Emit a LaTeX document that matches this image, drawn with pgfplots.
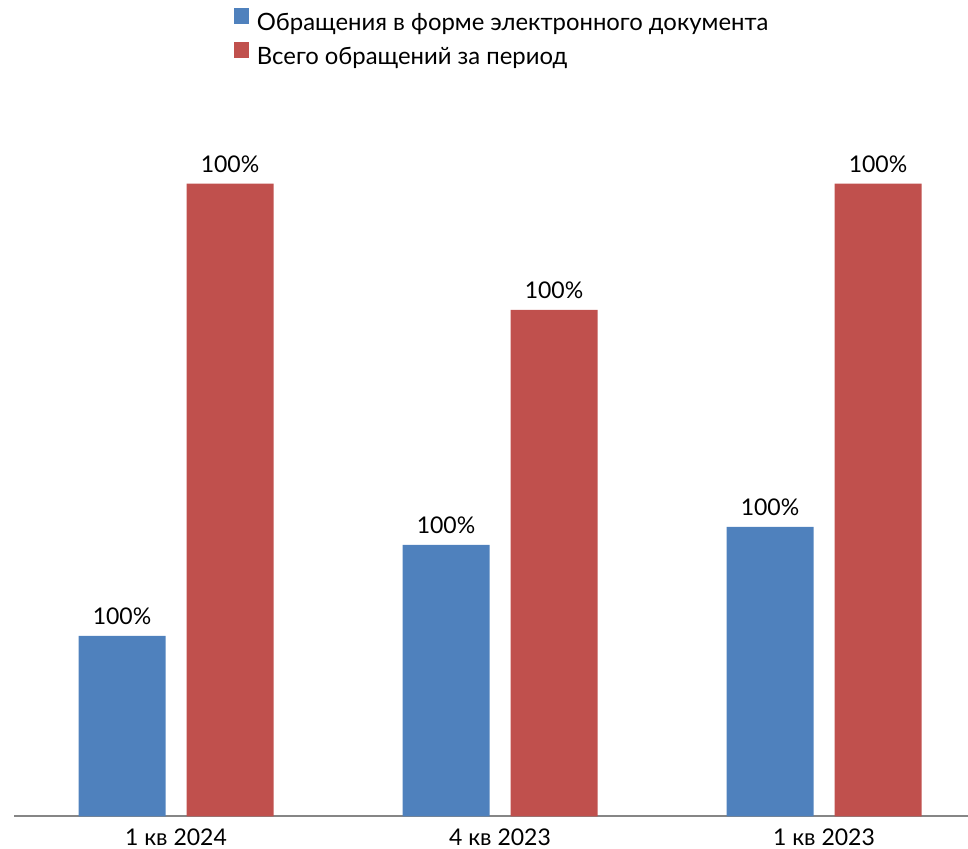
\documentclass[border=0pt]{standalone}
\usepackage{pgfplots}
\pgfplotsset{compat=1.18}
\usepackage{fontspec}
\setmainfont{Lato}
\definecolor{cblue}{HTML}{4F81BD}
\definecolor{cred}{HTML}{C0504D}
\definecolor{cgray}{HTML}{868686}
\begin{document}
\begin{tikzpicture}[font=\fontsize{17.25pt}{20pt}\selectfont]
\begin{axis}[
  at={(0,0)}, anchor=south west,
  x=243pt, y=0.75pt,
  xmin=-0.5, xmax=2.4475,
  ymin=0, ymax=816.5,
  axis x line=bottom, axis y line=none,
  axis line style={-, cgray, line width=1.5pt},
  xtick={0,1,2},
  xticklabels={1 кв 2024, 4 кв 2023, 1 кв 2023},
  major tick length=0pt,
  xticklabel style={anchor=base, yshift=-21.4pt, inner sep=0pt},
  /pgf/number format/assume math mode=true,
  ytick=\empty,
  ybar, bar width=65.25pt,
  nodes near coords={100\%},
  every node near coord/.append style={anchor=base, yshift=8.25pt, inner sep=0pt, text=black},
  clip=false,
  legend style={at={(axis description cs:0.2296,0.991)}, anchor=north west,
    draw=none, fill=none, inner sep=0pt, row sep=6.5pt,
    font=\fontsize{17.9pt}{20.5pt}\selectfont,
    nodes={inner sep=0pt}, column sep=6.3pt, legend cell align=left},
  legend image code/.code={\fill[#1] (0pt,-0.3pt) rectangle (11.25pt,11.7pt);},
]
\addplot[fill=cblue, draw=none, bar shift=-40.5pt] coordinates {(0,180.5) (1,271.5) (2,289.5)};
\addlegendentry{Обращения в форме электронного документа}
\addplot[fill=cred, draw=none, bar shift=40.5pt] coordinates {(0,632.8) (1,506.5) (2,632.8)};
\addlegendentry{Всего обращений за период}
\end{axis}
\pgfresetboundingbox
\useasboundingbox (-10.5pt,-24.375pt) rectangle (715.5pt,612.375pt);
\end{tikzpicture}
\end{document}
